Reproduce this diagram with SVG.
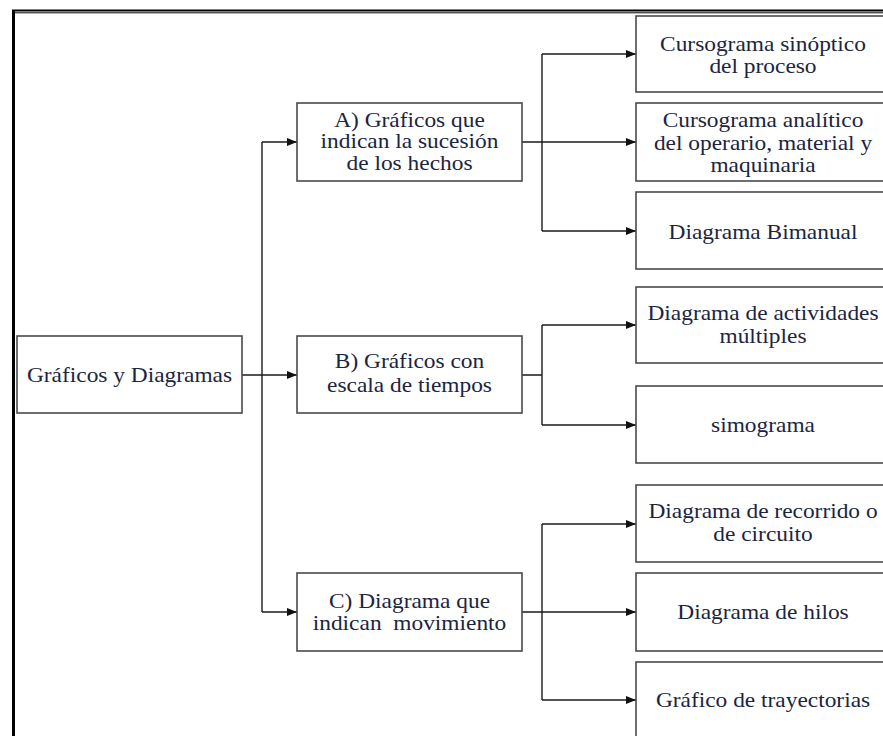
<svg xmlns="http://www.w3.org/2000/svg" width="883" height="736" viewBox="0 0 883 736">
<defs>
<style>
.box{fill:#fff;stroke:#4a4a4a;stroke-width:1.6}
text{font-family:'Liberation Serif','DejaVu Serif',serif;font-size:20px;fill:#1b2540;text-anchor:middle}
.c{fill:none;stroke:#1a1a1a;stroke-width:1.4}
.a{fill:none;stroke:#1a1a1a;stroke-width:1.4;marker-end:url(#arr)}
</style>
<marker id="arr" viewBox="0 0 10 8" refX="10" refY="4" markerWidth="10" markerHeight="8" markerUnits="userSpaceOnUse" orient="auto">
<path d="M0,0 L10,4 L0,8 Z" fill="#111"/>
</marker>
</defs>
<rect width="883" height="736" fill="#fff"/>
<g id="frame">
<line x1="12" y1="10.5" x2="883" y2="10.5" stroke="#000" stroke-width="2"/>
<line x1="14" y1="12.8" x2="883" y2="12.8" stroke="#000" stroke-width="1"/>
<line x1="13.5" y1="10" x2="13.5" y2="736" stroke="#000" stroke-width="3"/>
</g>
<g id="connectors">
<path class="a" d="M242,375 H297"/>
<path class="c" d="M262,142 V612"/>
<path class="a" d="M262,142 H297"/>
<path class="a" d="M262,612 H297"/>
<path class="a" d="M522,142 H636"/>
<path class="c" d="M542,54 V231"/>
<path class="a" d="M542,54 H636"/>
<path class="a" d="M542,231 H636"/>
<path class="c" d="M522,375 H542 M542,325 V425"/>
<path class="a" d="M542,325 H636"/>
<path class="a" d="M542,425 H636"/>
<path class="a" d="M522,612 H636"/>
<path class="c" d="M542,524 V700"/>
<path class="a" d="M542,524 H636"/>
<path class="a" d="M542,700 H636"/>
</g>
<g id="root">
<rect class="box" x="17" y="336" width="225" height="77"/>
<g transform="translate(129.5,0) scale(1.17,1)"><text x="0" y="382" font-family="Liberation Serif, serif">Gráficos y Diagramas</text></g>
</g>
<g id="nodeA">
<rect class="box" x="297" y="103" width="225" height="78"/>
<g transform="translate(409.5,0) scale(1.17,1)">
<text x="0" y="127">A) Gráficos que</text>
<text x="0" y="148.5">indican la sucesión</text>
<text x="0" y="170">de los hechos</text>
</g>
</g>
<g id="nodeB">
<rect class="box" x="297" y="336" width="225" height="77"/>
<g transform="translate(409.5,0) scale(1.17,1)">
<text x="0" y="368">B) Gráficos con</text>
<text x="0" y="392">escala de tiempos</text>
</g>
</g>
<g id="nodeC">
<rect class="box" x="297" y="573" width="225" height="78"/>
<g transform="translate(409.5,0) scale(1.17,1)">
<text x="0" y="608">C) Diagrama que</text>
<text x="0" y="630" xml:space="preserve">indican  movimiento</text>
</g>
</g>
<g id="a1">
<rect class="box" x="636" y="16" width="254" height="76"/>
<g transform="translate(763,0) scale(1.17,1)">
<text x="0" y="51">Cursograma sinóptico</text>
<text x="0" y="73">del proceso</text>
</g>
</g>
<g id="a2">
<rect class="box" x="636" y="103" width="254" height="78"/>
<g transform="translate(763,0) scale(1.17,1)">
<text x="0" y="127">Cursograma analítico</text>
<text x="0" y="150">del operario, material y</text>
<text x="0" y="172">maquinaria</text>
</g>
</g>
<g id="a3">
<rect class="box" x="636" y="192" width="254" height="77"/>
<g transform="translate(763,0) scale(1.17,1)"><text x="0" y="239">Diagrama Bimanual</text></g>
</g>
<g id="b1">
<rect class="box" x="636" y="287" width="254" height="76"/>
<g transform="translate(763,0) scale(1.17,1)">
<text x="0" y="320">Diagrama de actividades</text>
<text x="0" y="343">múltiples</text>
</g>
</g>
<g id="b2">
<rect class="box" x="636" y="386" width="254" height="77"/>
<g transform="translate(763,0) scale(1.17,1)"><text x="0" y="432">simograma</text></g>
</g>
<g id="c1">
<rect class="box" x="636" y="485" width="254" height="77"/>
<g transform="translate(763,0) scale(1.17,1)">
<text x="0" y="518">Diagrama de recorrido o</text>
<text x="0" y="541">de circuito</text>
</g>
</g>
<g id="c2">
<rect class="box" x="636" y="573" width="254" height="78"/>
<g transform="translate(763,0) scale(1.17,1)"><text x="0" y="619">Diagrama de hilos</text></g>
</g>
<g id="c3">
<rect class="box" x="636" y="662" width="254" height="80"/>
<g transform="translate(763,0) scale(1.17,1)"><text x="0" y="707">Gráfico de trayectorias</text></g>
</g>
</svg>
